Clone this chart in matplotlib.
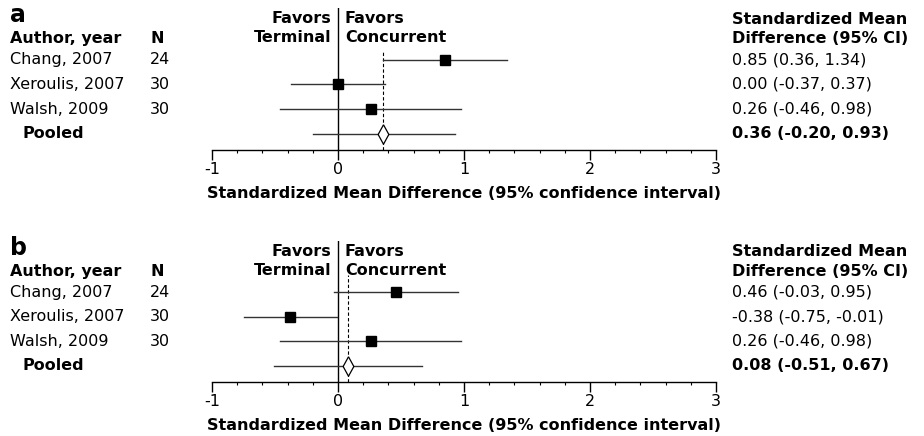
import matplotlib
matplotlib.use("Agg")
import matplotlib.pyplot as plt
import matplotlib.transforms as mtransforms
import matplotlib.ticker as mticker

# study data
studies = ["Chang, 2007", "Xeroulis, 2007", "Walsh, 2009"]
n_subjects = [24, 30, 30]

a_est = [0.85, 0.00, 0.26]
a_low = [0.36, -0.37, -0.46]
a_high = [1.34, 0.37, 0.98]
a_pooled = [0.36, -0.20, 0.93]

b_est = [0.46, -0.38, 0.26]
b_low = [-0.03, -0.75, -0.46]
b_high = [0.95, -0.01, 0.98]
b_pooled = [0.08, -0.51, 0.67]

x_ticks = [-1, 0, 1, 2, 3]

W, H = 924, 436
fig = plt.figure(figsize=(W / 100, H / 100), dpi=100)
plt.rcParams["font.family"] = "DejaVu Sans"
FS = 11.5
line_col = "#333333"
diamond = [(0, 1), (0.55, 0), (0, -1), (-0.55, 0), (0, 1)]


def fy(px):
    return 1 - px / H


def panel(letter, top_px, axis_px, est, low, high, pooled, dash_top):
    ax = fig.add_axes([212 / W, fy(axis_px), 504 / W, (axis_px - top_px) / H])
    rows = [4, 3, 2]
    ax.set_xlim(-1, 3)
    ax.set_ylim(0.35, 6.1)
    for s in ["left", "right", "top"]:
        ax.spines[s].set_visible(False)
    ax.spines["bottom"].set_linewidth(1)
    ax.set_yticks([])
    ax.set_xticks(x_ticks)
    ax.set_xticklabels([str(t) for t in x_ticks], fontsize=FS)
    ax.xaxis.set_minor_locator(mticker.MultipleLocator(0.2))
    ax.tick_params(axis="x", which="major", length=7, width=1, pad=2)
    ax.tick_params(axis="x", which="minor", length=2, width=0.8)
    ax.set_xlabel("Standardized Mean Difference (95% confidence interval)",
                  fontsize=FS, fontweight="bold", labelpad=6)

    ax.axvline(0, color="black", lw=1)
    ax.plot([pooled[0], pooled[0]], [0.35, dash_top], color="black",
            lw=0.8, ls=(0, (3, 2)))

    for r, e, lo, hi in zip(rows, est, low, high):
        ax.plot([lo, hi], [r, r], color=line_col, lw=1)
        ax.plot(e, r, marker="s", color="black", ms=7)
    ax.plot([pooled[1], pooled[2]], [1, 1], color=line_col, lw=1)
    ax.plot(pooled[0], 1, marker=diamond, ms=14, mfc="white", mec="black", mew=0.9)

    ax.annotate("Favors\nTerminal", xy=(0, 5.28), xytext=(-5, 0), textcoords="offset points",
                ha="right", va="center", fontsize=FS, fontweight="bold", linespacing=1.35)
    ax.annotate("Favors\nConcurrent", xy=(0, 5.28), xytext=(5, 0), textcoords="offset points",
                ha="left", va="center", fontsize=FS, fontweight="bold", linespacing=1.35)

    tr = mtransforms.blended_transform_factory(fig.transFigure, ax.transData)
    fig.text(10 / W, fy(top_px + 7), letter, fontsize=17, fontweight="bold", va="center")
    ax.text(10 / W, 4.85, "Author, year", transform=tr, fontsize=FS, fontweight="bold", va="center")
    ax.text(150 / W, 4.85, "N", transform=tr, fontsize=FS, fontweight="bold", va="center")
    ax.text(732 / W, 5.25, "Standardized Mean\nDifference (95% CI)", transform=tr,
            fontsize=FS, fontweight="bold", va="center", linespacing=1.35)
    for r, name, n, e, lo, hi in zip(rows, studies, n_subjects, est, low, high):
        ax.text(10 / W, r, name, transform=tr, fontsize=FS, va="center")
        ax.text(150 / W, r, str(n), transform=tr, fontsize=FS, va="center")
        ax.text(732 / W, r, f"{e:.2f} ({lo:.2f}, {hi:.2f})", transform=tr, fontsize=FS, va="center")
    ax.text(22 / W, 1, "Pooled", transform=tr, fontsize=FS, fontweight="bold", va="center")
    ax.text(732 / W, 1, f"{pooled[0]:.2f} ({pooled[1]:.2f}, {pooled[2]:.2f})",
            transform=tr, fontsize=FS, fontweight="bold", va="center")
    return ax


panel("a", 8, 149.7, a_est, a_low, a_high, a_pooled, 4.3)
panel("b", 240.7, 381.7, b_est, b_low, b_high, b_pooled, 4.7)

fig.savefig("out.png", dpi=100)
